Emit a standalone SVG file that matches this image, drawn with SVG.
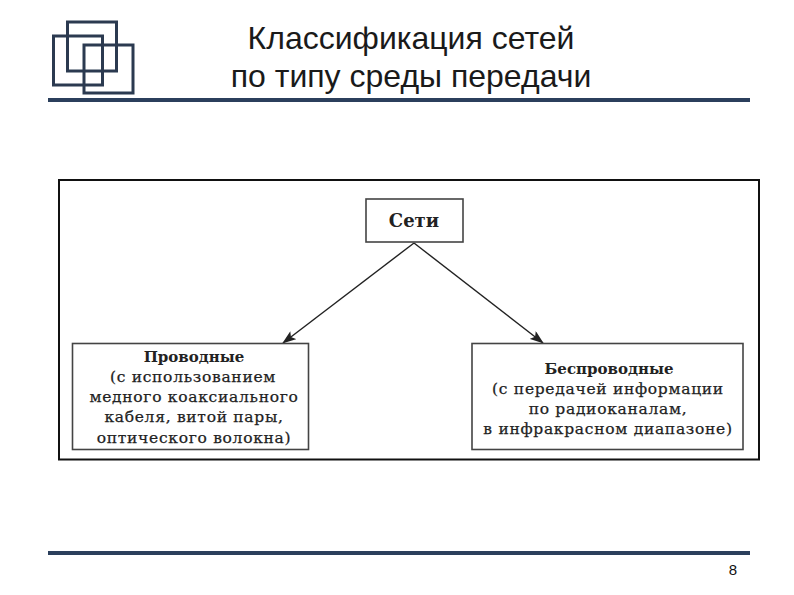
<svg xmlns="http://www.w3.org/2000/svg" width="794" height="595" viewBox="0 0 794 595">
<style>
.t{font-family:"Liberation Sans",Arial,sans-serif;font-size:32px;fill:#1a1a1a;text-anchor:middle}
.b{font-family:"DejaVu Serif","Liberation Serif",serif;font-size:15.5px;letter-spacing:.7px;fill:#222;stroke:#222;stroke-width:.25px;text-anchor:middle}
.h{font-weight:bold;font-size:15px;letter-spacing:0;stroke:none}
.box{fill:#fff;stroke:#444;stroke-width:1.6}
.logo{fill:none;stroke:#2b3a50;stroke-width:3}
.rule{stroke:#2b3f5c;stroke-width:4}
.c{stroke:#222;stroke-width:1.4;fill:none;marker-end:url(#a)}
</style>
<defs><marker id="a" markerUnits="userSpaceOnUse" markerWidth="14" markerHeight="10" refX="13" refY="5" orient="auto"><path d="M0 0L14 5L0 10L3 5Z" fill="#222"/></marker></defs>
<rect width="794" height="595" fill="#fff"/>
<g id="logo">
<rect class="logo" x="67.500" y="22" width="49" height="49"/>
<rect class="logo" x="53.500" y="36" width="49" height="49"/>
<rect class="logo" x="84" y="45" width="49" height="48"/>
</g>
<g id="title">
<text class="t" x="411" y="49">Классификация сетей</text>
<text class="t" x="411" y="87">по типу среды передачи</text>
<line class="rule" x1="48" y1="100" x2="750" y2="100"/>
</g>
<rect id="frame" x="59" y="180" width="700" height="279.500" fill="none" stroke="#111" stroke-width="2"/>
<g id="connectors">
<line class="c" x1="414" y1="243" x2="283" y2="343"/>
<line class="c" x1="414" y1="243" x2="543" y2="343"/>
</g>
<g id="node-networks">
<rect class="box" x="366" y="199" width="97" height="43"/>
<text class="b h" x="414" y="227" style="font-size:18px">Сети</text>
</g>
<g id="node-wired">
<rect class="box" x="72.500" y="343.500" width="236" height="106"/>
<text class="b h" x="194" y="362">Проводные</text>
<text class="b" x="193" y="382">(с использованием</text>
<text class="b" x="194" y="402">медного коаксиального</text>
<text class="b" x="194" y="422">кабеля, витой пары,</text>
<text class="b" x="194" y="443">оптического волокна)</text>
</g>
<g id="node-wireless">
<rect class="box" x="472" y="343.500" width="271" height="106"/>
<text class="b h" x="609" y="374">Беспроводные</text>
<text class="b" x="608" y="394">(с передачей информации</text>
<text class="b" x="608" y="414">по радиоканалам,</text>
<text class="b" x="608" y="434">в инфракрасном диапазоне)</text>
</g>
<g id="footer">
<line class="rule" x1="48" y1="553" x2="750" y2="553"/>
<text x="733" y="575" style="font-family:'Liberation Sans',Arial,sans-serif;font-size:15px;fill:#111;text-anchor:middle">8</text>
</g>
</svg>
